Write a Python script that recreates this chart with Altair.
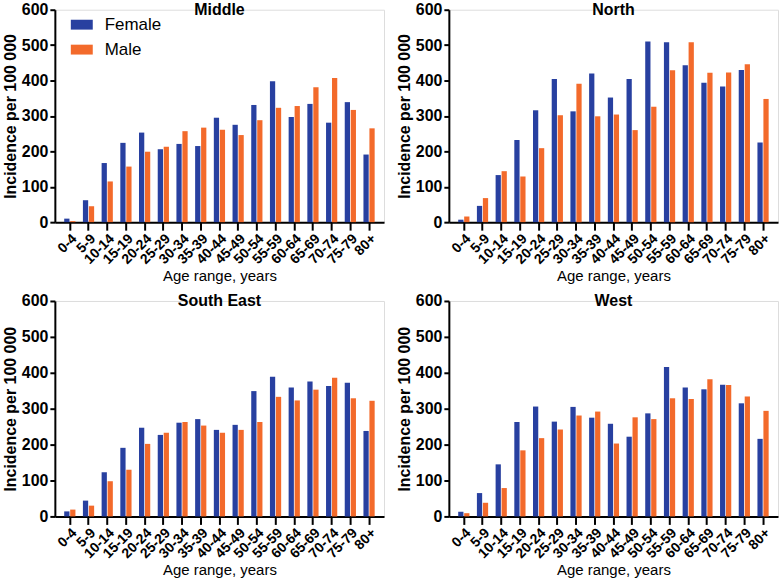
import altair as alt
import pandas as pd

ages = ["0-4", "5-9", "10-14", "15-19", "20-24", "25-29", "30-34", "35-39",
        "40-44", "45-49", "50-54", "55-59", "60-64", "65-69", "70-74", "75-79", "80+"]

middle_female = [10, 62, 167, 224, 253, 206, 221, 215, 295, 275, 331, 398, 297, 334, 281, 339, 191]
middle_male = [3, 45, 115, 157, 199, 213, 257, 267, 261, 246, 288, 323, 328, 381, 407, 317, 265]

north_female = [7, 46, 133, 232, 316, 404, 313, 420, 352, 404, 510, 508, 443, 394, 383, 430, 225]
north_male = [16, 68, 144, 129, 209, 302, 391, 299, 304, 260, 326, 429, 508, 422, 423, 446, 348]

se_female = [14, 44, 123, 191, 247, 227, 261, 271, 241, 255, 349, 389, 359, 376, 363, 372, 238]
se_male = [19, 30, 98, 130, 202, 233, 263, 253, 233, 241, 263, 333, 323, 353, 386, 329, 322]

west_female = [13, 65, 145, 263, 306, 264, 305, 275, 258, 222, 287, 416, 359, 354, 367, 315, 216]
west_male = [9, 38, 79, 184, 218, 242, 281, 292, 203, 276, 271, 329, 327, 382, 366, 334, 294]

regions = {
    "Middle": (middle_female, middle_male),
    "North": (north_female, north_male),
    "South East": (se_female, se_male),
    "West": (west_female, west_male),
}

rows = []
for reg, (fem, mal) in regions.items():
    for a, f, m in zip(ages, fem, mal):
        rows.append({"region": reg, "age": a, "sex": "Female", "value": f})
        rows.append({"region": reg, "age": a, "sex": "Male", "value": m})
df = pd.DataFrame(rows)

FONT = "Liberation Sans"
W = 330


def panel(reg, legend, h):
    if legend:
        leg = alt.Legend(title=None, orient="none", legendX=16, legendY=4,
                         symbolType="M-1,-0.45H1V0.45H-1Z", symbolSize=484,
                         symbolStrokeWidth=0, labelFontSize=17, labelFont=FONT,
                         labelColor="black", rowPadding=6, labelOffset=12)
    else:
        leg = None
    return alt.Chart(df[df.region == reg]).mark_bar().encode(
        x=alt.X("age:N", sort=ages,
                scale=alt.Scale(paddingInner=0.4, paddingOuter=0.5),
                axis=alt.Axis(title="Age range, years", labelAngle=-45,
                              labelFont=FONT, labelFontWeight="bold", labelFontSize=14,
                              labelColor="black", titleFont=FONT, titleFontSize=15,
                              titleFontWeight="normal", titleColor="black",
                              domainColor="black", domainWidth=2, tickColor="black",
                              tickWidth=2, tickSize=8, labelPadding=1, titlePadding=2)),
        xOffset=alt.XOffset("sex:N", scale=alt.Scale(paddingInner=0.12)),
        y=alt.Y("value:Q", scale=alt.Scale(domain=[0, 600]),
                axis=alt.Axis(title="Incidence per 100 000", values=[0, 100, 200, 300, 400, 500, 600],
                              grid=False, labelFont=FONT, labelFontWeight="bold",
                              labelFontSize=16, labelColor="black", titleFont=FONT,
                              titleFontSize=16, titleFontWeight="bold", titleColor="black",
                              domainColor="black", domainWidth=2, tickColor="black",
                              tickWidth=2, tickSize=5, labelPadding=2, titlePadding=3)),
        color=alt.Color("sex:N", scale=alt.Scale(domain=["Female", "Male"],
                                                 range=["#2840a0", "#f36a2b"]),
                        legend=leg),
    ).properties(
        width=W, height=h,
        title=alt.TitleParams(reg, font=FONT, fontSize=16, fontWeight="bold",
                              color="black", anchor="middle", frame="group", offset=-16),
    )


top = alt.hconcat(panel("Middle", True, 213), panel("North", False, 213), spacing=10)
bottom = alt.hconcat(panel("South East", False, 216), panel("West", False, 216), spacing=10)

chart = alt.vconcat(top, bottom, spacing=8).resolve_legend(color="independent").properties(
    padding={"left": 1, "top": 0, "right": 2, "bottom": 0}
).configure_view(stroke=None).configure(background="white")

chart.save("out.html", embed_options={"renderer": "svg", "actions": False})
